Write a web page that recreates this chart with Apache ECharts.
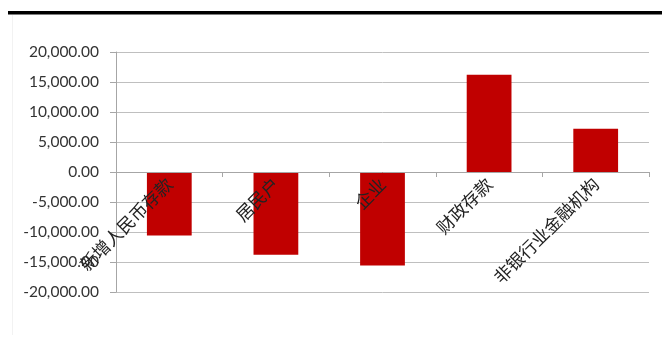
<!DOCTYPE html>
<html><head><meta charset="utf-8">
<script src="https://cdn.jsdelivr.net/npm/echarts@6/dist/echarts.min.js"></script>
<style>html,body{margin:0;padding:0;background:#fff}#c{width:662px;height:347px}</style>
</head><body><div id="c"></div>
<script>
const categories = ['新增人民币存款', '居民户', '企业', '财政存款', '非银行业金融机构'];
const values = [-10600, -13800, -15600, 16200, 7200];
const yTicks = [-20000, 20000, 5000];

const chart = echarts.init(document.getElementById('c'), null, {renderer: 'canvas'});
chart.setOption({
  animation: false,
  backgroundColor: '#fff',
  graphic: [
    {type: 'rect', shape: {x: 8, y: 11, width: 654, height: 3.5}, style: {fill: '#000'}},
    {type: 'line', shape: {x1: 12.5, y1: 15, x2: 12.5, y2: 335}, style: {stroke: '#f2f2f2', lineWidth: 1}}
  ],
  grid: {left: 116, right: 13, top: 52, bottom: 55, containLabel: false, outerBoundsMode: 'none'},
  xAxis: {
    type: 'category', data: categories, z: 10,
    axisLine: {onZero: false, lineStyle: {color: '#a6a6a6', width: 1}},
    offset: -120,
    axisTick: {show: true, inside: false, length: 5, alignWithLabel: false, lineStyle: {color: '#a6a6a6'}},
    axisLabel: {rotate: 45, margin: 9, interval: 0, color: '#222', fontSize: 17.5,
      fontFamily: '"Noto Sans CJK SC"'},
    splitLine: {show: false}
  },
  yAxis: {
    type: 'value', min: yTicks[0], max: yTicks[1], interval: yTicks[2],
    axisLine: {show: true, lineStyle: {color: '#a6a6a6'}},
    axisTick: {show: true, length: 6, lineStyle: {color: '#a6a6a6'}},
    axisLabel: {margin: 17, color: '#333', fontSize: 15.5, fontFamily: 'Lato',
      formatter: v => v.toLocaleString('en-US', {minimumFractionDigits: 2, maximumFractionDigits: 2})},
    splitLine: {show: true, lineStyle: {color: '#bfbfbf', width: 1}}
  },
  series: [{
    type: 'bar', data: values, barWidth: '42%',
    itemStyle: {color: '#c00000'}
  }]
});
</script></body></html>
